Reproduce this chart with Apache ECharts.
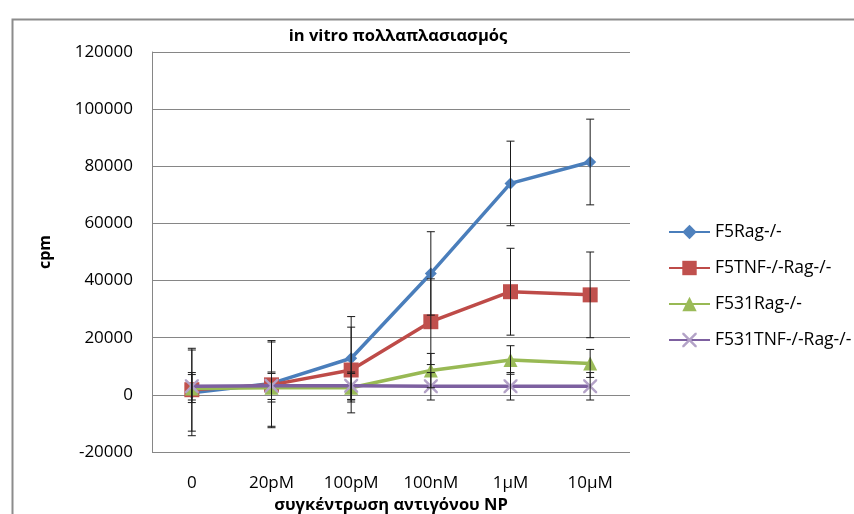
<!DOCTYPE html>
<html><head><meta charset="utf-8">
<script src="https://cdn.jsdelivr.net/npm/echarts@6/dist/echarts.min.js"></script>
<style>html,body{margin:0;padding:0;background:#fff}#c{width:854px;height:514px}</style>
</head><body><div id="c"></div>
<script>
const categories = ['0','20pM','100pM','100nM','1μM','10μM'];
const seriesNames = ['F5Rag-/-','F5TNF-/-Rag-/-','F531Rag-/-','F531TNF-/-Rag-/-'];
const f5rag = [700, 4000, 12800, 42500, 74000, 81500];
const f5ragErr = [15000, 15000, 14600, 14600, 14800, 15000];
const f5tnf = [1800, 3500, 8700, 25600, 36100, 35000];
const f5tnfErr = [14500, 15000, 15000, 15000, 15200, 15000];
const f531rag = [2200, 2500, 2500, 8500, 12200, 11000];
const f531ragErr = [4900, 5000, 5000, 6000, 5000, 4900];
const f531tnf = [3000, 3200, 3200, 3000, 3000, 3000];
const f531tnfErr = [4800, 4800, 4800, 4800, 4800, 4800];
const yTicks = {min: -20000, max: 120000, interval: 20000};

const FONT = '"Open Sans", "Noto Sans", sans-serif';
const lineColors = ['#4a7ebb', '#be4b48', '#98b954', '#7d60a0'];
const markColors = ['#4f81bd', '#c0504d', '#9bbb59', '#b3a2c7'];
const xPath = 'path://M0,0L1.2,0L5,3.8L8.8,0L10,0L10,1.2L6.2,5L10,8.8L10,10L8.8,10L5,6.2L1.2,10L0,10L0,8.8L3.8,5L0,1.2Z';
const symbols = ['diamond', 'rect', 'triangle', xPath];
const symSizes = [12, 15, 14, 14];
const values = [f5rag, f5tnf, f531rag, f531tnf];
const errs = [f5ragErr, f5tnfErr, f531ragErr, f531tnfErr];

const chart = echarts.init(document.getElementById('c'), null, {renderer: 'canvas'});

const lineSeries = values.map((v, k) => ({
  name: seriesNames[k],
  type: 'line',
  data: v,
  symbol: symbols[k],
  symbolSize: symSizes[k],
  showAllSymbol: true,
  lineStyle: {color: lineColors[k], width: 3.5},
  itemStyle: {color: markColors[k], borderWidth: 0},
  z: 3 + k,
  emphasis: {disabled: true},
  animation: false
}));

const errSeries = values.map((v, k) => ({
  type: 'custom',
  name: 'err' + k,
  data: v.map((m, i) => [i, m - errs[k][i], m + errs[k][i]]),
  encode: {x: 0, y: [1, 2]},
  z: 20,
  silent: true,
  animation: false,
  renderItem: function (params, api) {
    const lo = api.coord([api.value(0), api.value(1)]);
    const hi = api.coord([api.value(0), api.value(2)]);
    const w = 4;
    const st = {stroke: '#1a1a1a', lineWidth: 1};
    return {type: 'group', children: [
      {type: 'line', shape: {x1: lo[0], y1: lo[1], x2: hi[0], y2: hi[1]}, style: st},
      {type: 'line', shape: {x1: lo[0] - w, y1: lo[1], x2: lo[0] + w, y2: lo[1]}, style: st},
      {type: 'line', shape: {x1: hi[0] - w, y1: hi[1], x2: hi[0] + w, y2: hi[1]}, style: st}
    ]};
  }
}));

chart.setOption({
  animation: false,
  title: {
    text: 'in vitro πολλαπλασιασμός',
    left: 393, top: 23, textAlign: 'center',
    textStyle: {fontFamily: FONT, fontSize: 16.5, fontWeight: 'bold', color: '#000'}
  },
  graphic: [{
    type: 'rect', left: 10, top: 17, z: 100, silent: true,
    shape: {x: 0, y: 0, width: 900, height: 600},
    style: {fill: 'none', stroke: '#8c8c8c', lineWidth: 2}
  }],
  legend: {
    data: seriesNames,
    orient: 'vertical',
    left: 663, top: 218,
    itemWidth: 41, itemHeight: 18, itemGap: 18,
    textStyle: {fontFamily: FONT, fontSize: 17.5, color: '#000', padding: [0, 0, 0, 0]}
  },
  grid: {left: 152, right: 224, top: 52, bottom: 62, containLabel: false, outerBoundsMode: 'none'},
  xAxis: {
    type: 'category',
    data: categories,
    boundaryGap: true,
    axisLine: {show: false, onZero: false},
    axisTick: {show: false},
    axisLabel: {margin: 23, fontFamily: FONT, fontSize: 17, color: '#000'},
    name: 'συγκέντρωση αντιγόνου NP',
    nameLocation: 'middle', nameGap: 42,
    nameTextStyle: {fontFamily: FONT, fontSize: 16.5, fontWeight: 'bold', color: '#000'}
  },
  yAxis: {
    type: 'value',
    min: yTicks.min, max: yTicks.max, interval: yTicks.interval,
    axisLine: {show: true, lineStyle: {color: '#868686'}},
    axisTick: {show: false},
    splitLine: {lineStyle: {color: '#868686', width: 1}},
    axisLabel: {margin: 19, fontFamily: FONT, fontSize: 17, color: '#000', formatter: v => String(v)},
    name: 'cpm', nameLocation: 'middle', nameGap: 99, nameRotate: 90,
    nameTextStyle: {fontFamily: FONT, fontSize: 16, fontWeight: 'bold', color: '#000'}
  },
  series: lineSeries.concat(errSeries)
});
</script></body></html>
